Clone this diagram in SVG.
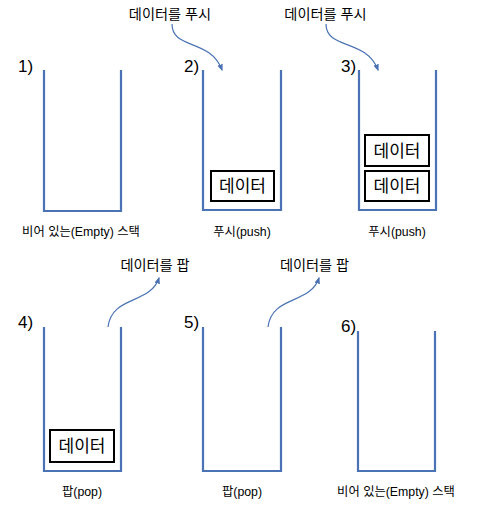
<svg xmlns="http://www.w3.org/2000/svg" width="480" height="507" viewBox="0 0 480 507">
<defs>
<marker id="ah" viewBox="0 0 10 10" refX="8" refY="5" markerWidth="7" markerHeight="7" orient="auto-start-reverse" markerUnits="userSpaceOnUse">
<path d="M0,1 L10,5 L0,9 z" fill="#4a72b4"/>
</marker>
<style>
.stack{fill:none;stroke:#4a72b4;stroke-width:2.2}
.box{fill:#fff;stroke:#000;stroke-width:2}
.t{font-family:"Liberation Sans","Noto Sans CJK KR",sans-serif;fill:#000}
.num{font-size:17px}
.cap{font-size:12.3px;text-anchor:middle}
.top{font-size:14.2px;text-anchor:middle}
.bt{font-size:17px;text-anchor:middle}
.arr{fill:none;stroke:#4a72b4;stroke-width:1.2}
</style>
</defs>
<rect width="480" height="507" fill="#fff"/>
<g id="stack1">
<path class="stack" d="M44,70 V211 H121 V70"/>
<text class="t num" x="18" y="72">1)</text>
<text class="t cap" x="81" y="236">비어 있는(Empty) 스택</text>
</g>
<g id="stack2">
<path class="stack" d="M203,70 V210 H281 V70"/>
<text class="t num" x="184" y="72">2)</text>
<rect class="box" x="211" y="171" width="63" height="30"/>
<text class="t bt" x="242.5" y="192">데이터</text>
<text class="t cap" x="242" y="236">푸시(push)</text>
</g>
<g id="stack3">
<path class="stack" d="M359,70 V210 H436 V70"/>
<text class="t num" x="341" y="72">3)</text>
<rect class="box" x="365" y="135" width="64" height="31"/>
<text class="t bt" x="397" y="157">데이터</text>
<rect class="box" x="365" y="171" width="64" height="30"/>
<text class="t bt" x="397" y="192">데이터</text>
<text class="t cap" x="397" y="236">푸시(push)</text>
</g>
<g id="stack4">
<path class="stack" d="M44,327 V471 H121 V327"/>
<text class="t num" x="18" y="328">4)</text>
<rect class="box" x="50" y="430" width="64" height="32"/>
<text class="t bt" x="82" y="452">데이터</text>
<text class="t cap" x="82" y="496">팝(pop)</text>
</g>
<g id="stack5">
<path class="stack" d="M203,327 V471 H281 V327"/>
<text class="t num" x="184" y="328">5)</text>
<text class="t cap" x="242" y="496">팝(pop)</text>
</g>
<g id="stack6">
<path class="stack" d="M358,331 V471 H435 V331"/>
<text class="t num" x="341" y="332">6)</text>
<text class="t cap" x="396" y="496">비어 있는(Empty) 스택</text>
</g>
<g id="labels">
<text class="t top" x="170" y="19">데이터를 푸시</text>
<text class="t top" x="325.5" y="19">데이터를 푸시</text>
<text class="t top" x="155" y="270">데이터를 팝</text>
<text class="t top" x="314.5" y="270">데이터를 팝</text>
</g>
<g id="connectors">
<path class="arr" marker-end="url(#ah)" d="M172,24 C172,50 210,38 222,70"/>
<path class="arr" marker-end="url(#ah)" d="M326,24 C326,50 366,38 378,70"/>
<path class="arr" marker-end="url(#ah)" d="M108,327 C112,295 150,305 159,278"/>
<path class="arr" marker-end="url(#ah)" d="M268,327 C272,295 310,305 319,278"/>
</g>
</svg>
